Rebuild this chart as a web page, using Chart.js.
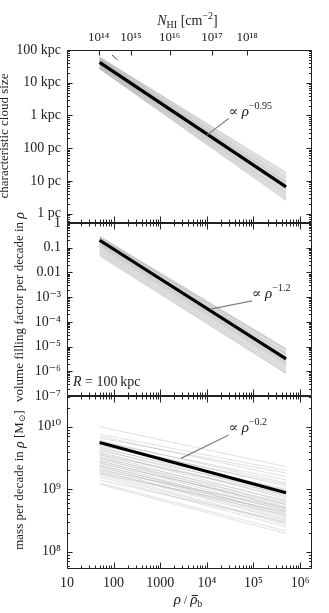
<!DOCTYPE html>
<html><head><meta charset="utf-8">
<script src="https://cdn.jsdelivr.net/npm/chart.js@4"></script>
<style>html,body{margin:0;padding:0;background:#fff;}</style>
</head><body>
<canvas id="c" width="329" height="613"></canvas>
<script>
// ---------- data ----------
const rhoRange = [50, 5e5];               // density range of each curve (rho / mean rho_b)

// characteristic cloud size [pc] at rho = 50 and rho = 5e5 (one entry per gray curve)
const sizeStart = [61700,60300,58900,57500,56200,55000,53700,52500,51300,50100,49000,47900,46800,45700,44700,43700,42700,41700,40700,39800,38900,38000,37200,36300,35500,34700,33900,33100,32400,31600,30900,30200,29500,28800,28200,27500,26900,26300];
const sizeEnd   = [18.6,16.6,15.1,17.4,14.1,12.6,13.2,11.2,12.0,10.5,9.55,10.0,8.91,8.32,9.12,7.59,7.94,7.08,6.31,6.76,6.03,5.62,6.31,5.25,4.79,5.50,4.47,4.17,4.57,3.80,3.98,3.55,3.31,3.16,2.95,2.82,2.63,2.51];
const sizeFit   = [41700, 6.6];

// volume filling factor per decade
const fillStart = [0.295,0.282,0.269,0.263,0.251,0.240,0.234,0.224,0.214,0.204,0.195,0.191,0.182,0.174,0.166,0.158,0.151,0.145,0.138,0.132,0.126,0.120,0.112,0.107,0.100,0.0933,0.0871,0.0813,0.0759,0.0708,0.0661,0.0617,0.0575,0.0537,0.0501,0.0457];
const fillEnd   = [8.32e-6,7.59e-6,6.61e-6,7.94e-6,6.03e-6,5.62e-6,7.08e-6,5.01e-6,5.25e-6,4.47e-6,3.98e-6,4.68e-6,3.55e-6,3.80e-6,3.16e-6,2.82e-6,3.31e-6,2.51e-6,2.63e-6,2.24e-6,2.40e-6,2.00e-6,2.09e-6,1.78e-6,1.91e-6,1.58e-6,1.66e-6,1.41e-6,1.32e-6,1.20e-6,1.12e-6,1.05e-6,9.55e-7,8.91e-7,8.13e-7,8.32e-7];
const fillFit   = [0.2, 3.2e-6];

// mass per decade [Msun]
const massStart = [1.00e10,7.59e9,7.08e9,6.61e9,6.03e9,5.75e9,5.50e9,5.25e9,5.01e9,4.79e9,4.57e9,4.37e9,4.17e9,3.98e9,3.80e9,3.63e9,3.55e9,3.39e9,3.24e9,3.16e9,3.02e9,2.88e9,2.82e9,2.69e9,2.63e9,2.51e9,2.40e9,2.34e9,2.24e9,2.14e9,2.04e9,2.00e9,1.91e9,1.82e9,1.78e9,1.70e9,1.58e9,1.41e9,1.26e9,1.20e9];
const massEnd   = [2.29e9,2.00e9,1.58e9,1.82e9,1.26e9,1.41e9,1.12e9,9.55e8,1.20e9,7.94e8,1.00e9,7.08e8,8.91e8,6.31e8,7.59e8,5.62e8,8.32e8,5.01e8,6.61e8,4.79e8,6.03e8,4.47e8,5.25e8,3.98e8,5.75e8,3.80e8,4.57e8,3.55e8,4.17e8,3.31e8,5.01e8,3.16e8,3.80e8,2.88e8,4.37e8,2.75e8,2.51e8,3.02e8,2.14e8,1.95e8];
const massFit   = [5.6e9, 8.8e8];

// annotation pointers: [x0, x1], [y0, y1]
const sizePtrX = [9800, 29400],  sizePtrY = [247, 803];
const fillPtrX = [11900, 93300], fillPtrY = [3.3e-4, 7.1e-4];
const massPtrX = [2790, 29400],  massPtrY = [3.12e9, 7.36e9];
const strayX = [92.5, 122], strayY = [70300, 49300];
const slopeLabels = ['\u22120.95', '\u22121.2', '\u22120.2'];

// ticks
const xTickValues = [10,100,1000,1e4,1e5,1e6];
const xTickLabels = ['10','100','1000','10\u2074','10\u2075','10\u2076'];
const nhiTickRho = [47.6, 236, 1590, 12900, 73000];
const nhiTickLabels = ['10\u00b9\u2074','10\u00b9\u2075','10\u00b9\u2076','10\u00b9\u2077','10\u00b9\u2078'];
const sizeTickValues = [1,10,100,1e3,1e4,1e5];
const sizeTickLabels = ['1 pc','10 pc','100 pc','1 kpc','10 kpc','100 kpc'];
const fillTickValues = [1,0.1,0.01,1e-3,1e-4,1e-5,1e-6,1e-7];
const fillTickLabels = ['1','0.1','0.01','10\u207b\u00b3','10\u207b\u2074','10\u207b\u2075','10\u207b\u2076','10\u207b\u2077'];
const massTickValues = [1e8,1e9,1e10];
const massTickLabels = ['10\u2078','10\u2079','10\u00b9\u2070'];

// ---------- chart ----------
const FONT = '"Liberation Serif","DejaVu Serif",serif';
const INK = '#222';
const GRAY = 'rgba(150,150,150,0.33)';

function seg(yId, xs, ys, color, width, order) {
  return {yAxisID: yId, xAxisID: 'x', order: order, data: [{x: xs[0], y: ys[0]}, {x: xs[1], y: ys[1]}],
          borderColor: color, borderWidth: width, pointRadius: 0, fill: false, tension: 0};
}
const datasets = [];
// lower "order" is drawn on top
datasets.push(seg('yTop', sizePtrX, sizePtrY, '#808080', 1.2, 0));
datasets.push(seg('yMid', fillPtrX, fillPtrY, '#808080', 1.2, 0));
datasets.push(seg('yBot', massPtrX, massPtrY, '#808080', 1.2, 0));
datasets.push(seg('yTop', strayX, strayY, '#444', 1, 0));
datasets.push(seg('yTop', rhoRange, sizeFit, '#000', 3.2, 1));
datasets.push(seg('yMid', rhoRange, fillFit, '#000', 3.2, 1));
datasets.push(seg('yBot', rhoRange, massFit, '#000', 3.2, 1));
sizeStart.forEach((v, i) => datasets.push(seg('yTop', rhoRange, [v, sizeEnd[i]], GRAY, 0.9, 2)));
fillStart.forEach((v, i) => datasets.push(seg('yMid', rhoRange, [v, fillEnd[i]], GRAY, 0.9, 2)));
massStart.forEach((v, i) => datasets.push(seg('yBot', rhoRange, [v, massEnd[i]], GRAY, 0.9, 2)));

function labelFor(values, labels) {
  return function (v) {
    for (let i = 0; i < values.length; i++)
      if (Math.abs(Math.log10(v) - Math.log10(values[i])) < 1e-6) return labels[i];
    return '';
  };
}
const tickFont = {family: FONT, size: 14};
function yScale(min, max, weight, vals, labs) {
  return {type: 'logarithmic', position: 'left', stack: 'panels', stackWeight: 1, weight: weight,
    min: min, max: max, grid: {display: false, drawTicks: false}, border: {display: false},
    ticks: {autoSkip: false, padding: 6, font: tickFont, color: INK, callback: labelFor(vals, labs)},
    afterFit(s) { s.width = 67; }};
}

function minorValues(min, max) {
  const out = [];
  for (let e = Math.floor(Math.log10(min)) - 1; e <= Math.ceil(Math.log10(max)); e++)
    for (let k = 1; k <= 9; k++) {
      const v = k * Math.pow(10, e);
      if (v >= min * 0.9999 && v <= max * 1.0001) out.push({v: v, major: k === 1});
    }
  return out;
}

function drawRich(ctx, segs, x, y, align) {
  let w = 0;
  segs.forEach(s => { ctx.font = (s.it ? 'italic ' : '') + (s.sz || 14) + 'px ' + FONT; s.w = ctx.measureText(s.t).width; w += s.w; });
  let cx = align === 'center' ? x - w / 2 : x;
  segs.forEach(s => {
    ctx.font = (s.it ? 'italic ' : '') + (s.sz || 14) + 'px ' + FONT;
    ctx.fillText(s.t, cx, y + (s.dy || 0));
    if (s.bar) { ctx.fillRect(cx + 1.5, y - 9, s.w - 1, 1); }
    cx += s.w;
  });
}

const framePlugin = {
  id: 'frame',
  afterDraw(chart) {
    const ctx = chart.ctx, ca = chart.chartArea, xs = chart.scales.x, x2 = chart.scales.x2;
    ctx.save();
    ctx.strokeStyle = INK; ctx.fillStyle = INK; ctx.lineWidth = 1;
    const xm = minorValues(xs.min, xs.max);
    ['yTop', 'yMid', 'yBot'].forEach((id, k) => {
      const s = chart.scales[id];
      const L = Math.round(ca.left) + 0.5, R = Math.round(ca.right) - 0.5;
      const T = Math.round(s.top) + 0.5, B = Math.round(s.bottom) - 0.5;
      ctx.beginPath();
      ctx.rect(L, T, R - L, B - T);
      minorValues(s.min, s.max).forEach(t => {
        const py = Math.round(s.getPixelForValue(t.v)) + 0.5;
        const len = t.major ? 5 : 2.5;
        ctx.moveTo(L, py); ctx.lineTo(L + len, py);
        ctx.moveTo(R, py); ctx.lineTo(R - len, py);
      });
      xm.forEach(t => {
        const px = Math.round(xs.getPixelForValue(t.v)) + 0.5;
        const len = t.major ? 6 : 3;
        ctx.moveTo(px, B); ctx.lineTo(px, B - len);
        if (k > 0) { ctx.moveTo(px, T); ctx.lineTo(px, T + len); }
      });
      if (k === 0) {
        nhiTickRho.forEach(v => {
          const px = Math.round(x2.getPixelForValue(v)) + 0.5;
          ctx.moveTo(px, T); ctx.lineTo(px, T + 5);
        });
      }
      ctx.stroke();
    });

    // annotations
    ctx.textAlign = 'left'; ctx.textBaseline = 'alphabetic';
    const ptrs = [['yTop', sizePtrX, sizePtrY], ['yMid', fillPtrX, fillPtrY], ['yBot', massPtrX, massPtrY]];
    ptrs.forEach((p, i) => {
      const px = xs.getPixelForValue(p[1][1]), py = chart.scales[p[0]].getPixelForValue(p[2][1]);
      drawRich(ctx, [{t: '\u221d ', sz: 14}, {t: '\u03c1', it: true, sz: 15}, {t: slopeLabels[i], sz: 10, dy: -7}], px, py - 3, 'left');
    });
    drawRich(ctx, [{t: 'R', it: true, sz: 14}, {t: ' = 100\u2009kpc', sz: 14}], 73, 386, 'left');

    // axis titles
    drawRich(ctx, [{t: 'N', it: true, sz: 14}, {t: 'HI', sz: 10, dy: 3}, {t: ' [cm', sz: 14}, {t: '\u22122', sz: 10, dy: -6}, {t: ']', sz: 14}], 187.5, 25, 'center');
    drawRich(ctx, [{t: '\u03c1', it: true, sz: 15}, {t: ' / ', sz: 12}, {t: '\u03c1', it: true, sz: 15, bar: true}, {t: 'b', sz: 10, dy: 3}], 188, 604, 'center');

    const titles = [
      [[{t: 'characteristic cloud size', sz: 13}], 5, 136],
      [[{t: 'volume filling factor per decade in ', sz: 13}, {t: '\u03c1', it: true, sz: 14}], 20, 307],
      [[{t: 'mass per decade in ', sz: 13}, {t: '\u03c1', it: true, sz: 14}, {t: ' [M', sz: 13}, {t: '\u2299', sz: 9, dy: 3}, {t: ']', sz: 13}], 20, 480]
    ];
    titles.forEach(tt => {
      ctx.save(); ctx.translate(tt[1], tt[2]); ctx.rotate(-Math.PI / 2);
      ctx.textBaseline = 'middle';
      drawRich(ctx, tt[0], 0, 0, 'center');
      ctx.restore();
    });
    ctx.restore();
  }
};

new Chart(document.getElementById('c'), {
  type: 'line',
  data: {datasets: datasets},
  options: {
    responsive: false, animation: false, events: [],
    layout: {padding: {left: 0, right: 17, top: 0, bottom: 0}},
    plugins: {legend: {display: false}, tooltip: {enabled: false}},
    scales: {
      x: {type: 'logarithmic', position: 'bottom', min: 10, max: 1.8e6,
        grid: {display: false, drawTicks: false}, border: {display: false},
        ticks: {autoSkip: false, maxRotation: 0, minRotation: 0, padding: 6, font: tickFont, color: INK,
                callback: labelFor(xTickValues, xTickLabels)},
        afterFit(s) { s.height = 44; }},
      x2: {type: 'logarithmic', position: 'top', min: 10, max: 1.8e6,
        grid: {display: false, drawTicks: false}, border: {display: false},
        afterBuildTicks(s) { s.ticks = nhiTickRho.map(v => ({value: v})); },
        ticks: {autoSkip: false, maxRotation: 0, minRotation: 0, padding: 5, font: {family: FONT, size: 13}, color: INK,
                callback: (v, i) => nhiTickLabels[i]},
        afterFit(s) { s.height = 50; }},
      yTop: yScale(0.52, 1e5, 3, sizeTickValues, sizeTickLabels),
      yMid: yScale(1e-7, 1, 2, fillTickValues, fillTickLabels),
      yBot: yScale(5.3e7, 3.1e10, 1, massTickValues, massTickLabels)
    }
  },
  plugins: [framePlugin]
});
</script>
</body></html>
